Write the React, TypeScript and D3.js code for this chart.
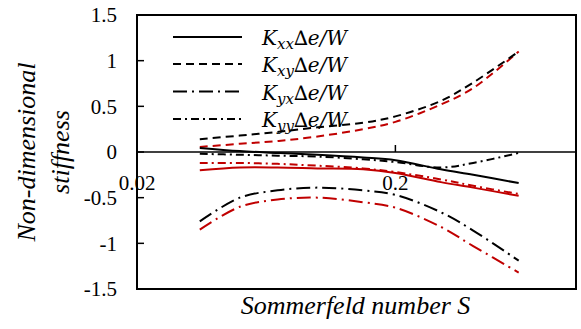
import React from "react";
import * as d3 from "d3";

const S = [0.035, 0.05, 0.07, 0.1, 0.15, 0.2, 0.3, 0.4, 0.6];
const kxxBlack = [0.045, 0.01, -0.01, -0.03, -0.06, -0.09, -0.19, -0.25, -0.34];
const kxyBlack = [0.14, 0.18, 0.22, 0.27, 0.32, 0.39, 0.56, 0.76, 1.1];
const kyxBlack = [-0.76, -0.5, -0.42, -0.39, -0.42, -0.47, -0.66, -0.86, -1.19];
const kyyBlack = [-0.02, -0.03, -0.04, -0.05, -0.08, -0.11, -0.17, -0.12, -0.01];
const kxxRed = [-0.2, -0.17, -0.17, -0.18, -0.19, -0.23, -0.33, -0.39, -0.48];
const kxyRed = [0.055, 0.09, 0.12, 0.17, 0.25, 0.33, 0.52, 0.7, 1.1];
const kyxRed = [-0.85, -0.6, -0.52, -0.5, -0.55, -0.61, -0.82, -1.03, -1.32];
const kyyRed = [-0.12, -0.12, -0.13, -0.15, -0.18, -0.22, -0.3, -0.37, -0.46];

const yTicks = [1.5, 1, 0.5, 0, -0.5, -1, -1.5];
const yTickLabels = ["1.5", "1", "0.5", "0", "-0.5", "-1", "-1.5"];
const xTicks = [0.02, 0.2];
const xTickLabels = ["0.02", "0.2"];
const legendSubs = ["xx", "xy", "yx", "yy"];

const RED = "#C00000";
const BLACK = "#000000";
const dashes = [null, "8,5", "14,5,2,5", "8,4,2,4"];
const SERIF = "Liberation Serif, Times New Roman, Times, serif";
const LEGEND_FONT = "DejaVu Serif, Liberation Serif, serif";

export default function App() {
  const W = 581, H = 329;
  const left = 137, right = 576, top = 15, bottom = 289;
  const x = d3.scaleLog().domain([0.02, 1]).range([left, right]);
  const y = d3.scaleLinear().domain([-1.5, 1.5]).range([bottom, top]);
  const line = d3
    .line<number>()
    .x((_, i) => x(S[i]))
    .y((d) => y(d))
    .curve(d3.curveCatmullRom.alpha(0.5));

  const series = [
    { v: kxxRed, c: RED, d: dashes[0] },
    { v: kxyRed, c: RED, d: dashes[1] },
    { v: kyxRed, c: RED, d: dashes[2] },
    { v: kyyRed, c: RED, d: dashes[3] },
    { v: kxxBlack, c: BLACK, d: dashes[0] },
    { v: kxyBlack, c: BLACK, d: dashes[1] },
    { v: kyxBlack, c: BLACK, d: dashes[2] },
    { v: kyyBlack, c: BLACK, d: dashes[3] },
  ];

  const legendY = [37, 64, 91.5, 119];

  return (
    <svg width={W} height={H} style={{ position: "absolute", left: 0, top: 0, background: "#fff" }}>
      <rect x={0} y={0} width={W} height={H} fill="#fff" />
      <rect x={left} y={top} width={right - left} height={bottom - top} fill="none" stroke="#000" strokeWidth={2} />
      <line x1={left} x2={right} y1={y(0)} y2={y(0)} stroke="#000" strokeWidth={1.5} />
      {yTicks.map((t, i) => (
        <g key={"yt" + i}>
          <line x1={left} x2={left + 7} y1={y(t)} y2={y(t)} stroke="#000" strokeWidth={1.5} />
          <text x={left - 20} y={y(t)} dy="0.35em" textAnchor="end" style={{ fontFamily: SERIF, fontSize: 21 }}>
            {yTickLabels[i]}
          </text>
        </g>
      ))}
      {xTicks.map((t, i) => (
        <g key={"xt" + i}>
          <line x1={x(t)} x2={x(t)} y1={y(0)} y2={y(0) - 7} stroke="#000" strokeWidth={1.5} />
          <text x={x(t)} y={190} textAnchor="middle" style={{ fontFamily: SERIF, fontSize: 21 }}>
            {xTickLabels[i]}
          </text>
        </g>
      ))}
      {series.map((s, i) => (
        <path
          key={"s" + i}
          d={line(s.v) || ""}
          fill="none"
          stroke={s.c}
          strokeWidth={2}
          strokeDasharray={s.d || undefined}
        />
      ))}
      {legendSubs.map((sub, i) => (
        <g key={"lg" + i}>
          <line
            x1={173}
            x2={242}
            y1={legendY[i]}
            y2={legendY[i]}
            stroke="#000"
            strokeWidth={2}
            strokeDasharray={dashes[i] || undefined}
          />
          <text x={262} y={legendY[i] + 8} style={{ fontFamily: LEGEND_FONT, fontStyle: "italic", fontSize: 20 }}>
            K
            <tspan style={{ fontSize: 15 }} dy={4}>{sub}</tspan>
            <tspan dy={-4}>{"\u2206e/W"}</tspan>
          </text>
        </g>
      ))}
      <text
        x={355.5}
        y={314}
        textAnchor="middle"
        style={{ fontFamily: SERIF, fontStyle: "italic", fontSize: 26 }}
      >
        Sommerfeld number S
      </text>
      <g transform="translate(26,152) rotate(-90)">
        <text x={0} y={0} dy="0.35em" textAnchor="middle" style={{ fontFamily: SERIF, fontStyle: "italic", fontSize: 26 }}>
          Non-dimensional
        </text>
      </g>
      <g transform="translate(60,152) rotate(-90)">
        <text x={0} y={0} dy="0.35em" textAnchor="middle" style={{ fontFamily: SERIF, fontStyle: "italic", fontSize: 26 }}>
          stiffness
        </text>
      </g>
    </svg>
  );
}
